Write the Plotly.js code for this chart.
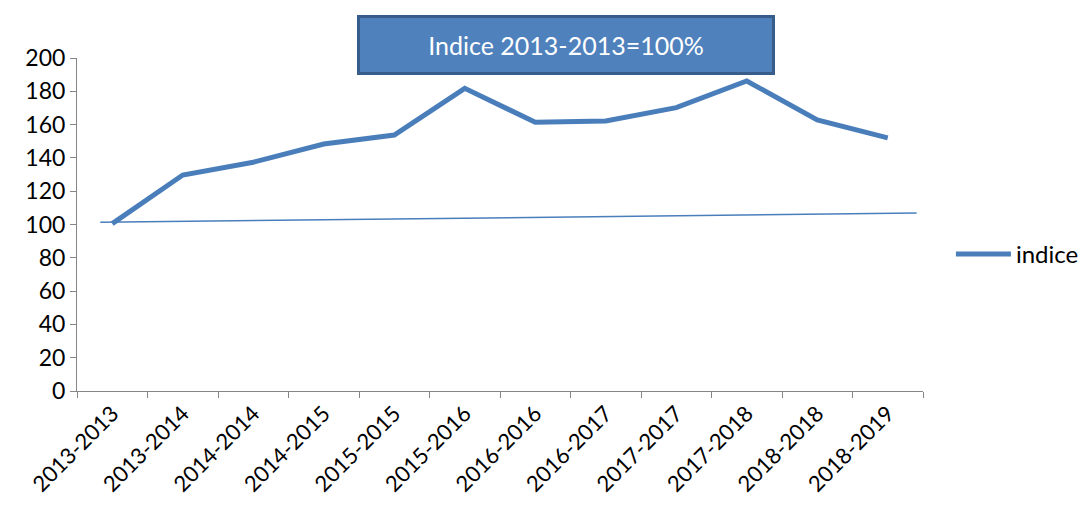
<!DOCTYPE html>
<html>
<head>
<meta charset="utf-8">
<script src="https://cdn.plot.ly/plotly-3.0.1.min.js"></script>
<style>html,body{margin:0;padding:0;background:#fff;}#chart{width:1083px;height:505px;}</style>
</head>
<body>
<div id="chart"></div>
<script>
const categories = ["2013-2013","2013-2014","2014-2014","2014-2015","2015-2015","2015-2016","2016-2016","2016-2017","2017-2017","2017-2018","2018-2018","2018-2019"];
const indice = [100.5, 129.7, 137.4, 148.3, 153.7, 181.8, 161.4, 162.2, 170.2, 186.2, 162.8, 152];
const refX = [-0.17, 11.41];
const refY = [101.3, 106.9];
const yTicks = [0,20,40,60,80,100,120,140,160,180,200];
const titleText = "Indice 2013-2013=100%";

const font = "Lato, 'Open Sans', sans-serif";
const data = [
  {x: refX, y: refY, xaxis: 'x2', type: 'scatter', mode: 'lines', line: {color: '#4A7EBB', width: 1.5}, showlegend: false, hoverinfo: 'skip'},
  {x: categories, y: indice, type: 'scatter', mode: 'lines', name: 'indice', line: {color: '#4A7EBB', width: 5}}
];
const layout = {
  width: 1083, height: 505,
  margin: {l: 77, r: 160, t: 58, b: 114, autoexpand: false},
  paper_bgcolor: '#fff', plot_bgcolor: '#fff',
  font: {family: font, color: '#000', size: 23},
  xaxis: {
    type: 'category', tickson: 'boundaries', ticks: 'outside', ticklen: 6, tickcolor: '#868686',
    showline: true, linecolor: '#868686', linewidth: 1, showgrid: false, zeroline: false,
    tickangle: -45, tickfont: {size: 22, family: font}, range: [-0.5, 11.5]
  },
  xaxis2: {overlaying: 'x', type: 'linear', range: [-0.5, 11.5], visible: false},
  yaxis: {
    range: [0, 200], tickvals: yTicks, ticks: 'outside', ticklen: 6, tickcolor: '#868686',
    showline: true, linecolor: '#868686', linewidth: 1, showgrid: false, zeroline: false,
    tickfont: {size: 23, family: font}
  },
  legend: {x: 1.033, xanchor: 'left', y: 0.41, yanchor: 'middle', itemwidth: 55, font: {size: 24, family: font}, bgcolor: 'rgba(0,0,0,0)'},
  annotations: [{
    text: titleText, xref: 'paper', yref: 'paper', x: 0.578, y: 1.04, xanchor: 'center', yanchor: 'middle',
    showarrow: false, bgcolor: '#4F81BD', bordercolor: '#385D8A', borderwidth: 3,
    width: 410, height: 52, font: {color: '#fff', size: 25, family: font}
  }]
};
Plotly.newPlot('chart', data, layout, {displayModeBar: false, staticPlot: true});
</script>
</body>
</html>
